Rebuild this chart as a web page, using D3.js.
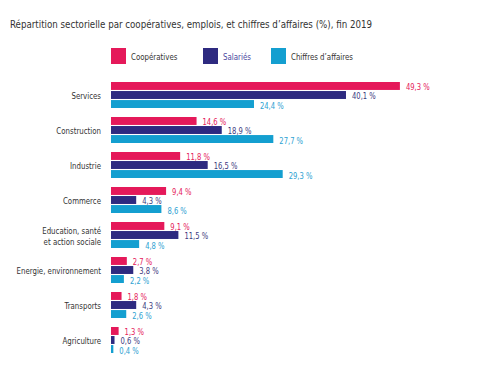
<!DOCTYPE html>
<html>
<head>
<meta charset="utf-8">
<script src="https://cdn.jsdelivr.net/npm/d3@7"></script>
<style>
  body { margin: 0; background: #fff; }
  svg { display: block; font-family: "DejaVu Sans Condensed", "DejaVu Sans", sans-serif; font-stretch: condensed; }
</style>
</head>
<body>
<div class="vis-barchart"></div>
<script>
// data (%)
const categories = ['Services', 'Construction', 'Industrie', 'Commerce',
  'Education, santé|et action sociale', 'Energie, environnement', 'Transports', 'Agriculture'];
const series = ['Coopératives', 'Salariés', "Chiffres d'affaires"];
const cooperatives = [49.3, 14.6, 11.8, 9.4, 9.1, 2.7, 1.8, 1.3];
const salaries = [40.1, 18.9, 16.5, 4.3, 11.5, 3.8, 4.3, 0.6];
const chiffres = [24.4, 27.7, 29.3, 8.6, 4.8, 2.2, 2.6, 0.4];

const colors = ['#e5195a', '#2e2a80', '#149fd0'];
const labelColors = ['#e5195a', '#3d3a80', '#2ea2d2'];

const width = 500, height = 370;

// squeeze a text horizontally so the wide fallback font looks like the narrow original
const squeeze = (sel, k) => sel.each(function() {
  const w = this.getComputedTextLength();
  d3.select(this).attr('textLength', w * k).attr('lengthAdjust', 'spacingAndGlyphs');
});

const svg = d3.select('.vis-barchart').append('svg')
  .attr('width', width)
  .attr('height', height);

// title
svg.append('text')
  .attr('x', 10)
  .attr('y', 28)
  .attr('font-size', 11)
  .attr('fill', '#333')
  .text("Répartition sectorielle par coopératives, emplois, et chiffres d’affaires (%), fin 2019")
  .attr('textLength', 362)
  .attr('lengthAdjust', 'spacingAndGlyphs');

// legend
const legendX = [111, 203, 271];
const legend = svg.append('g');
series.forEach((s, i) => {
  legend.append('rect')
    .attr('x', legendX[i])
    .attr('y', 48)
    .attr('width', 15)
    .attr('height', 16)
    .attr('fill', colors[i]);
  legend.append('text')
    .attr('x', legendX[i] + 20)
    .attr('y', 59.5)
    .attr('font-size', 8.5)
    .attr('fill', i === 1 ? '#4a47a0' : '#333')
    .text(s.replace("'", '’'))
    .call(squeeze, 0.92);
});

const data = categories.map((c, i) => ({
  cat: c,
  values: [cooperatives[i], salaries[i], chiffres[i]]
}));

const xScale = d3.scaleLinear()
  .domain([0, 50])
  .range([111, 404]);

const yScale = d3.scaleBand()
  .domain(categories)
  .range([82, 353])
  .paddingInner(9 / 35)
  .paddingOuter(0);

const ySub = d3.scaleBand()
  .domain(d3.range(3))
  .range([0, yScale.bandwidth()])
  .paddingInner(0.12);

const groups = svg.selectAll('.group')
  .data(data)
  .enter().append('g')
  .attr('class', 'group')
  .attr('transform', d => `translate(0, ${yScale(d.cat)})`);

groups.selectAll('rect')
  .data(d => d.values)
  .enter().append('rect')
  .attr('x', xScale(0))
  .attr('y', (d, i) => ySub(i))
  .attr('width', d => xScale(d) - xScale(0))
  .attr('height', ySub.bandwidth())
  .attr('fill', (d, i) => colors[i]);

groups.selectAll('.val')
  .data(d => d.values)
  .enter().append('text')
  .attr('class', 'val')
  .attr('x', d => xScale(d) + 6)
  .attr('y', (d, i) => ySub(i) + ySub.bandwidth() + 0.5)
  .attr('font-size', 9)
  .attr('fill', (d, i) => labelColors[i])
  .text(d => d3.format('.1f')(d).replace('.', ',') + ' %')
  .call(squeeze, 0.84);

// category labels
groups.each(function(d) {
  const lines = d.cat.split('|');
  const g = d3.select(this);
  const mid = yScale.bandwidth() / 2;
  lines.forEach((l, j) => {
    g.append('text')
      .attr('x', 101)
      .attr('y', mid + 3.5 + (j - (lines.length - 1) / 2) * 11 + (lines.length > 1 ? 1 : 0))
      .attr('text-anchor', 'end')
      .attr('font-size', 9.5)
      .attr('fill', '#333')
      .text(l)
      .call(squeeze, 0.82);
  });
});
</script>
</body>
</html>
